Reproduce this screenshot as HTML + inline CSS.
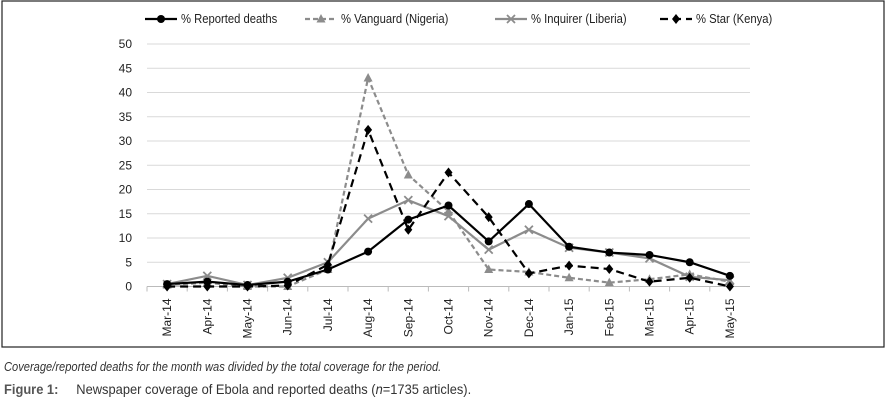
<!DOCTYPE html>
<html><head><meta charset="utf-8"><style>
body{margin:0;background:#fff;width:887px;height:410px;overflow:hidden;font-family:"Liberation Sans",sans-serif}
svg text{font-family:"Liberation Sans",sans-serif}
.cap{position:absolute;left:4px;font-size:12.5px;color:#333;white-space:nowrap;transform-origin:0 0;transform:scaleX(0.89)}
</style></head><body>
<svg id="chart" width="887" height="350" style="position:absolute;left:0;top:0">
<rect x="2" y="1" width="882" height="346" fill="none" stroke="#222" stroke-width="1.2"/>
<g id="grid"></g><g id="axes"></g><g id="series"></g><g id="legend"></g>
</svg>
<div class="cap" style="top:360px;font-style:italic">Coverage/reported deaths for the month was divided by the total coverage for the period.</div>
<div class="cap" style="top:381px;font-size:14px;transform:scaleX(0.92)"><b style="color:#555">Figure 1:</b>&nbsp;&nbsp;&nbsp;&nbsp;&nbsp;Newspaper coverage of Ebola and reported deaths (<i>n</i>=1735 articles).</div>
<script>
const categories=["Mar-14","Apr-14","May-14","Jun-14","Jul-14","Aug-14","Sep-14","Oct-14","Nov-14","Dec-14","Jan-15","Feb-15","Mar-15","Apr-15","May-15"];
const reported=[0.5,1,0.3,1,3.5,7.2,13.8,16.7,9.3,17,8.2,7,6.5,5,2.2];
const vanguard=[0.3,0.8,0,0,3.5,43,23,15.5,3.5,3,1.8,0.8,1.5,2.5,1];
const inquirer=[0.5,2.2,0.3,1.8,5,14,17.8,14.5,7.6,11.7,8,7,5.8,2,1.3];
const star=[0,0,0,0.2,4.5,32.3,11.7,23.5,14.3,2.7,4.3,3.6,1,1.8,0];
const yTicks=[0,5,10,15,20,25,30,35,40,45,50];
const NS="http://www.w3.org/2000/svg";
const x0=147,step=40.2,yb=286.5,yt=44;
const X=i=>x0+step*(i+0.5);
const Y=v=>yb-(v/50)*(yb-yt);
function mk(p,t,a){const e=document.createElementNS(NS,t);for(const k in a)e.setAttribute(k,a[k]);p.appendChild(e);return e;}
const grid=document.getElementById('grid'),axes=document.getElementById('axes'),ser=document.getElementById('series'),leg=document.getElementById('legend');
yTicks.forEach(v=>{
 const l=mk(grid,'line',{x1:x0,x2:x0+step*15,y1:Y(v),y2:Y(v),stroke:v?'#d9d9d9':'#bbb','stroke-width':1});
 
 
 const t=mk(axes,'text',{x:x0-15,y:Y(v)+4,'text-anchor':'end','font-size':12,fill:'#222'});
 t.textContent=v;
 
 
});
categories.forEach((c,i)=>{
 mk(axes,'line',{x1:x0+step*i,x2:x0+step*i,y1:yb,y2:yb+5,stroke:'#bbb'});
 const t=mk(axes,'text',{transform:`translate(${X(i)+4},${yb+12}) rotate(-90)`,'text-anchor':'end','font-size':12,fill:'#222'});
 t.textContent=c;
 
 
});
function marker(g,type,x,y,col){
 if(type==='circle')mk(g,'circle',{cx:x,cy:y,r:4,fill:col});
 else if(type==='tri')mk(g,'polygon',{points:`${x},${y-5} ${x-4.5},${y+3.5} ${x+4.5},${y+3.5}`,fill:col});
 else if(type==='x'){mk(g,'path',{d:`M${x-4},${y-4}L${x+4},${y+4}M${x-4},${y+4}L${x+4},${y-4}`,stroke:col,'stroke-width':1.8});}
 else mk(g,'polygon',{points:`${x},${y-5} ${x+4},${y} ${x},${y+5} ${x-4},${y}`,fill:col});
}
const defs=[
 {name:'% Reported deaths',data:reported,col:'#000',dash:'',m:'circle',lx:145,id:'reported-deaths'},
 {name:'% Vanguard (Nigeria)',data:vanguard,col:'#8c8c8c',dash:'5,3',m:'tri',lx:305,id:'vanguard'},
 {name:'% Inquirer (Liberia)',data:inquirer,col:'#8c8c8c',dash:'',m:'x',lx:495,id:'inquirer'},
 {name:'% Star (Kenya)',data:star,col:'#000',dash:'8,5',m:'diamond',lx:660,id:'star'}
];
[1,2,0,3].forEach(k=>{
 const s=defs[k];
 const g=mk(ser,'g',{});
 
 
 mk(g,'polyline',{points:s.data.map((v,i)=>X(i)+','+Y(v)).join(' '),fill:'none',stroke:s.col,'stroke-width':2.2,'stroke-dasharray':s.dash});
 s.data.forEach((v,i)=>marker(g,s.m,X(i),Y(v),s.col));
});
defs.forEach(s=>{
 const g=mk(leg,'g',{});
 
 
 mk(g,'line',{x1:s.lx,x2:s.lx+32,y1:19,y2:19,stroke:s.col,'stroke-width':2.2,'stroke-dasharray':s.dash});
 marker(g,s.m,s.lx+16,19,s.col);
 const t=mk(g,'text',{x:s.lx+36,y:23,'font-size':12.5,fill:'#222'});
 t.textContent=s.name;
 const w=t.getComputedTextLength();
 if(w>0){t.setAttribute('textLength',w*0.9);t.setAttribute('lengthAdjust','spacingAndGlyphs');}
});
</script>
</body></html>
